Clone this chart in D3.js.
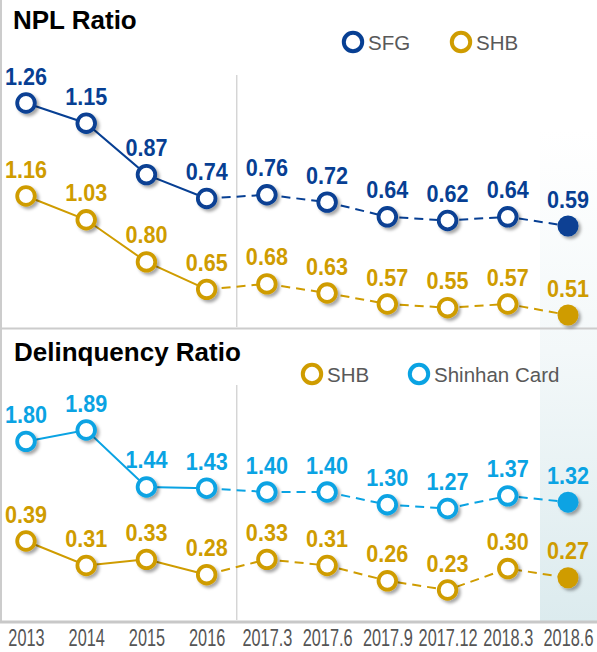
<!DOCTYPE html>
<html>
<head>
<meta charset="utf-8">
<script src="https://cdn.jsdelivr.net/npm/d3@7"></script>
<style>
  html, body { margin: 0; padding: 0; background: #fff; }
  svg { display: block; font-family: "Liberation Sans", Arial, sans-serif; }
</style>
</head>
<body>
<div id="chart"></div>
<script>
// periods on the bottom axis
var periods = ["2013", "2014", "2015", "2016", "2017.3", "2017.6", "2017.9", "2017.12", "2018.3", "2018.6"];

// NPL ratio (%)
var nplSFG = [1.26, 1.15, 0.87, 0.74, 0.76, 0.72, 0.64, 0.62, 0.64, 0.59];
var nplSHB = [1.16, 1.03, 0.80, 0.65, 0.68, 0.63, 0.57, 0.55, 0.57, 0.51];

// Delinquency ratio (%)
var delSHB  = [0.39, 0.31, 0.33, 0.28, 0.33, 0.31, 0.26, 0.23, 0.30, 0.27];
var delCard = [1.80, 1.89, 1.44, 1.43, 1.40, 1.40, 1.30, 1.27, 1.37, 1.32];

var w = 597;
var h = 652;

var navy = "#073f93";
var gold = "#cf9c00";
var sky  = "#0aa3e3";

var svg = d3.select("#chart")
			.append("svg")
			.attr("width", w)
			.attr("height", h);

var defs = svg.append("defs");

var grad = defs.append("linearGradient")
			   .attr("id", "band")
			   .attr("x1", 0).attr("y1", 0)
			   .attr("x2", 0).attr("y2", 1);
grad.append("stop").attr("offset", 0).attr("stop-color", "#ffffff");
grad.append("stop").attr("offset", 0.45).attr("stop-color", "#f3f8f9");
grad.append("stop").attr("offset", 1).attr("stop-color", "#dcebee");

var shadow = defs.append("filter")
				 .attr("id", "shadow")
				 .attr("x", "-50%").attr("y", "-50%")
				 .attr("width", "200%").attr("height", "200%");
shadow.append("feDropShadow")
	  .attr("dx", 2.5).attr("dy", 2.5)
	  .attr("stdDeviation", 1.8)
	  .attr("flood-color", "#000")
	  .attr("flood-opacity", 0.35);

var x = d3.scalePoint()
		  .domain(periods)
		  .range([26, 568]);

//highlight band behind the latest quarter
svg.append("rect")
   .attr("x", x("2018.6") - 28)
   .attr("y", 130)
   .attr("width", w - (x("2018.6") - 28))
   .attr("height", 492)
   .attr("fill", "url(#band)");

//frame lines
var frame = svg.append("g").attr("stroke", "#cccccc");
frame.append("line").attr("x1", 1).attr("x2", 1).attr("y1", 0).attr("y2", 623).attr("stroke-width", 2);
frame.append("line").attr("x1", 0).attr("x2", w).attr("y1", 328.5).attr("y2", 328.5).attr("stroke-width", 2);
frame.append("line").attr("x1", 0).attr("x2", w).attr("y1", 622).attr("y2", 622).attr("stroke-width", 3).attr("stroke", "#c8c8c8");

// divider between annual and quarterly data
var divX = (x("2016") + x("2017.3")) / 2;
frame.append("line").attr("x1", divX).attr("x2", divX).attr("y1", 75).attr("y2", 327).attr("stroke-width", 1.2);
frame.append("line").attr("x1", divX).attr("x2", divX).attr("y1", 385).attr("y2", 620).attr("stroke-width", 1.2);

//titles
svg.append("text")
   .attr("x", 13).attr("y", 29)
   .attr("font-size", "26px")
   .attr("font-weight", "bold")
   .attr("fill", "#000")
   .text("NPL Ratio");

svg.append("text")
   .attr("x", 14).attr("y", 361)
   .attr("font-size", "26px")
   .attr("font-weight", "bold")
   .attr("fill", "#000")
   .text("Delinquency Ratio");

//legends
function legendItem(cx, cy, color, label) {
	svg.append("circle")
	   .attr("cx", cx).attr("cy", cy).attr("r", 9.2)
	   .attr("fill", "#fff")
	   .attr("stroke", color)
	   .attr("stroke-width", 4);
	svg.append("text")
	   .attr("x", cx + 15).attr("y", cy + 8)
	   .attr("font-size", "20.5px")
	   .attr("fill", "#595959")
	   .text(label);
}
legendItem(353, 42, navy, "SFG");
legendItem(461, 42, gold, "SHB");
legendItem(312, 374, gold, "SHB");
legendItem(419, 374, sky, "Shinhan Card");

//one series: solid line for annual, dashed for quarterly, open markers, last one filled
function drawSeries(values, color, yTop, yBottom) {
	var ext = d3.extent(values);
	var y = d3.scaleLinear()
			  .domain(ext)
			  .range([yBottom, yTop]);

	var pts = values.map(function(d, i) {
		return { p: periods[i], v: d, last: i === values.length - 1 };
	});

	var line = d3.line()
				 .x(function(d) { return x(d.p); })
				 .y(function(d) { return y(d.v); });

	var g = svg.append("g");

	g.append("path")
	 .datum(pts.slice(0, 4))
	 .attr("d", line)
	 .attr("fill", "none")
	 .attr("stroke", color)
	 .attr("stroke-width", 2);

	g.append("path")
	 .datum(pts.slice(3))
	 .attr("d", line)
	 .attr("fill", "none")
	 .attr("stroke", color)
	 .attr("stroke-width", 2)
	 .attr("stroke-dasharray", "9,6");

	g.selectAll("circle")
	 .data(pts)
	 .enter()
	 .append("circle")
	 .attr("cx", function(d) { return x(d.p); })
	 .attr("cy", function(d) { return y(d.v); })
	 .attr("r", function(d) { return d.last ? 10.5 : 8.8; })
	 .attr("fill", function(d) { return d.last ? color : "#fff"; })
	 .attr("stroke", color)
	 .attr("stroke-width", function(d) { return d.last ? 0 : 3.8; })
	 .attr("filter", "url(#shadow)");

	g.selectAll("text")
	 .data(pts)
	 .enter()
	 .append("text")
	 .attr("transform", function(d) {
		 return "translate(" + x(d.p) + "," + (y(d.v) - 18.5) + ") scale(0.92,1)";
	 })
	 .attr("text-anchor", "middle")
	 .attr("font-size", "23.5px")
	 .attr("font-weight", "bold")
	 .attr("fill", color)
	 .text(function(d) { return d.v.toFixed(2); });
}

drawSeries(nplSFG, navy, 103, 226);
drawSeries(nplSHB, gold, 196, 315);
drawSeries(delCard, sky, 430, 508.5);
drawSeries(delSHB, gold, 541, 590);

//bottom axis
var axis = svg.append("g")
			  .attr("transform", "translate(0,646)")
			  .call(d3.axisBottom(x).tickSize(0).tickPadding(0));

axis.select(".domain").remove();

axis.selectAll("text")
	.attr("y", 0)
	.attr("dy", 0)
	.attr("transform", "scale(0.68,1)")
	.attr("font-family", "\"Liberation Sans\", Arial, sans-serif")
	.attr("font-size", "24px")
	.attr("fill", "#555555");
</script>
</body>
</html>
